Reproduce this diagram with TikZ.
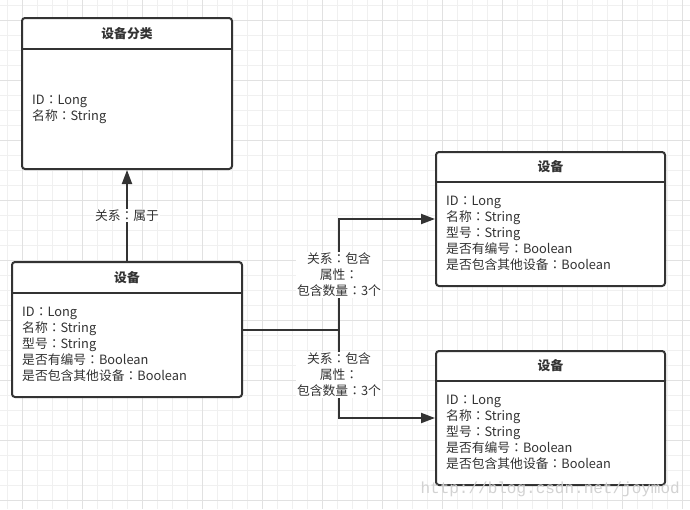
\documentclass[tikz,border=0pt]{standalone}
\usepackage{fontspec}
\setmainfont{Noto Sans CJK SC}
\newfontfamily\tcfont{Noto Sans CJK TC}
\newfontfamily\markfont{Liberation Mono}
\newcommand{\fcolon}{{\tcfont ：}}
\usetikzlibrary{arrows.meta,positioning}
\definecolor{edgegray}{HTML}{333333}
\definecolor{minorgrid}{HTML}{F0F0F0}
\definecolor{majorgrid}{HTML}{E1E1E1}
\definecolor{markgray}{HTML}{D2D2D2}
\tikzset{
  classbox/.style={draw=edgegray,line width=2pt,rounded corners=3pt,fill=white,inner sep=0pt},
  classtitle/.style={font=\fontsize{12.8}{16}\selectfont\bfseries,text=edgegray,inner sep=0pt},
  classbody/.style={font=\fontsize{12.8}{16}\selectfont,text=edgegray,align=left,inner sep=0pt,anchor=west},
  divider/.style={draw=edgegray,line width=2pt},
  relation/.style={draw=edgegray,line width=2pt,-{Triangle[length=14pt,width=10pt]}},
  rellabel/.style={fill=white,font=\fontsize{12.8}{16}\selectfont,align=center,inner sep=1pt,text=edgegray}
}
\begin{document}
\begin{tikzpicture}[x=1pt,y=-1pt]
\useasboundingbox (0,0) rectangle (690,509);
\fill[white] (0,0) rectangle (690,509);
% background grid
\foreach \x in {7,22,...,690} \draw[minorgrid,line width=1pt] (\x,0) -- (\x,509);
\foreach \y in {5,20,...,509} \draw[minorgrid,line width=1pt] (0,\y) -- (690,\y);
\foreach \x in {22,82,...,690} \draw[majorgrid,line width=1pt] (\x,0) -- (\x,509);
\foreach \y in {20,80,...,509} \draw[majorgrid,line width=1pt] (0,\y) -- (690,\y);

% class boxes
\node[classbox,minimum width=210pt,minimum height=151pt] (cat) at (127,93.5) {};
\node[classbox,minimum width=230pt,minimum height=135pt] (dev) at (127,329.5) {};
\node[classbox,minimum width=229pt,minimum height=134pt] (devA) at (550.5,219) {};
\node[classbox,minimum width=229pt,minimum height=134pt] (devB) at (550.5,418) {};

\draw[divider] (cat.west |- 0,49) -- (cat.east |- 0,49);
\draw[divider] (dev.west |- 0,293) -- (dev.east |- 0,293);
\draw[divider] (devA.west |- 0,182) -- (devA.east |- 0,182);
\draw[divider] (devB.west |- 0,381) -- (devB.east |- 0,381);

\node[classtitle] (cattitle) at (127,34) {设备分类};
\node[classtitle] (devtitle) at (127,278) {设备};
\node[classtitle] (devAtitle) at (550.5,167) {设备};
\node[classtitle] (devBtitle) at (550.5,366) {设备};

\node[classbody] (catbody) at (32,109) {ID\fcolon Long\\名称\fcolon String};
\node[classbody] (devbody) at (22,344.5) {ID\fcolon Long\\名称\fcolon String\\型号\fcolon String\\是否有编号\fcolon Boolean\\是否包含其他设备\fcolon Boolean};
\node[classbody] (devAbody) at (446,233.5) {ID\fcolon Long\\名称\fcolon String\\型号\fcolon String\\是否有编号\fcolon Boolean\\是否包含其他设备\fcolon Boolean};
\node[classbody] (devBbody) at (446,432.5) {ID\fcolon Long\\名称\fcolon String\\型号\fcolon String\\是否有编号\fcolon Boolean\\是否包含其他设备\fcolon Boolean};

% relations
\draw[relation] (dev.north) -- (cat.south) node[rellabel,pos=0.5] (belongs) {关系\fcolon 属于};
\coordinate (fork) at (339,330);
\draw[divider] (dev.east |- fork) -- (fork);
\draw[relation] (fork) |- (devA.west);
\draw[relation] (fork) |- (devB.west);
\node[rellabel] (containsA) at (339,275) {关系\fcolon 包含\\属性\fcolon\\包含数量\fcolon 3个};
\node[rellabel] (containsB) at (339,375) {关系\fcolon 包含\\属性\fcolon\\包含数量\fcolon 3个};

% watermark
\node[text=markgray,font=\markfont\fontsize{16}{16}\selectfont,anchor=east,inner sep=0pt] (mark) at (680,489) {http://blog.csdn.net/joymod};
\end{tikzpicture}
\end{document}
